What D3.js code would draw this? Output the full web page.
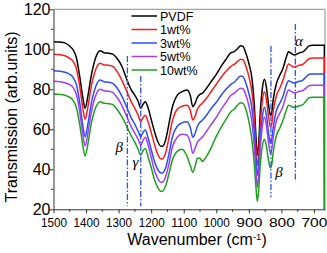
<!DOCTYPE html>
<html><head><meta charset="utf-8">
<script src="https://cdn.jsdelivr.net/npm/d3@7/dist/d3.min.js"></script>
<style>body{margin:0;background:#fff}svg{display:block}text{font-family:Arial,"Liberation Sans",sans-serif}</style>
</head><body>
<svg id="c" width="327" height="253"></svg>
<script>
const wavenumbers = [1500,1480,1465,1450,1440,1430,1420,1410,1403,1395,1385,1370,1357,1345,1330,1318,1305,1290,1275,1262,1250,1240,1232,1225,1218,1210,1200,1190,1180,1170,1165,1155,1145,1135,1120,1105,1090,1080,1072,1065,1058,1050,1043,1030,1015,1000,985,970,955,945,935,925,918,910,900,890,883,878,874,870,865,858,852,846,840,834,830,825,815,805,795,785,778,770,762,755,745,735,725,715,705,690,680,668,667];
const pvdf  = [103.8,103.6,103.2,101.5,99.8,96,87,76,70.5,76,86,96,99.3,98.3,98,97.6,95.5,91.5,85,80,77,74,70.5,72.5,73.8,71,65,59,54,51.5,51.5,55,63,71,77,78.8,79.6,77,71.3,73,76,77.5,78,80.5,84,87.5,91.5,95,98.3,98.8,100.3,101.8,101.5,98.5,93,85,72,56,47,52,68,81,85,81,73,67,68,75,83,87,90.5,96,98.8,98,97.2,97.4,98.2,98.6,100,101.7,102,102,102,102,0];
const wt1   = [97.5,97.3,96.8,95.5,94,90.5,82,70.5,65,70.5,80.5,90,93,92.2,92,91.5,89,84.6,79,74,70.5,67,63.8,65.8,67,64,58.5,52.5,47.5,45.2,45.2,48.5,56,64,70,71.5,72,69.5,64.7,66.5,70,72,73,75.5,79,82.5,86,89,91.5,92.5,93.8,95,94.8,92,86.5,78,66,50,42,46,62,75,78.8,75,67,61.3,62.5,69,77,80.5,84.5,90,92.6,91.8,91.2,91.4,92,92.4,93.8,95.3,95.6,95.6,95.6,95.6,0];
const wt3   = [89.3,89,88.5,87.5,86,82.5,74,62,56.3,62,72,81.5,84.6,83.8,83.5,83,80.8,76.6,71,66,62.5,59,56.3,58.5,59.6,56,50,44,40,38.2,38.2,41,48,56,61.5,63.2,63.8,61,56,58,61.5,63.5,64.5,67,70.5,73.5,77,80,82.5,83.5,85.3,86.6,86.3,83.5,78,70,58,45,37,41,55,67,71,67,59,53,54.5,61,69.5,73,76.5,82,84.3,83.7,83.2,83.4,84,84.5,86,87.5,87.7,87.7,87.7,87.7,0];
const wt5   = [84,83.8,83.3,82.3,81,77.5,69.5,57.5,51.7,57.5,67.5,77,80,79.3,79,78.5,76,72,66.5,61.5,58,55,52,54.5,56,52.5,46,39.5,35.5,33.5,33.5,36.5,43,51,56,57.5,57.2,53.5,48,50.5,53.5,55,56,59,62.5,66,70,73.5,77,78,79.5,80.5,80.3,77.5,72,63,51,39,31,36,50,62,66,62,54,48,49.5,56,64.5,68,71.5,77,79.6,79,78.3,78.4,79,79.3,80.5,81.8,82,82,82,82,0];
const wt10  = [77.6,77.4,77,76,74.5,71,63,52,46.6,52,62,71,73.8,73,72.8,72.3,70,66.3,61.5,57,53.5,50,47.1,49.3,50.4,46.5,41,35,31,29,29,32,38,44.5,49,50,46.5,42,38.5,41.5,45.5,45.5,44,46.5,51,56.5,61,65,68.8,70,72,73.3,73,70.5,64,54,42,31,24,29,42,52,55,51.5,45,40.6,42,48.5,57,60.5,64.5,69.5,72,71.5,71,71.2,71.8,72.2,74,75.8,76,76,76,76,0];
const seriesNames = ["PVDF","1wt%","3wt%","5wt%","10wt%"];
const seriesColors = ["#000000","#ff1a1a","#2a4bff","#a23cf5","#1ea01e"];
const xTicks = [1500,1400,1300,1200,1100,1000,900,800,700];
const yTicks = [20,40,60,80,100,120];
const markerLines = [{w:1273,from:96.6,to:21.5},{w:1232,from:86.6,to:21.5},{w:832,from:101.7,to:26},{w:757,from:112.7,to:33.8}];
const markerLabels = [{t:"β",w:1298,v:48.5},{t:"γ",w:1248,v:41},{t:"β",w:807,v:36},{t:"α",w:746,v:101.5}];

const allSeries = [pvdf,wt1,wt3,wt5,wt10];
const svg = d3.select("#c");
const L=53.5,R=325,T=9.3,B=209.3;
const x = d3.scaleLinear().domain([1500,666]).range([L,R]);
const y = d3.scaleLinear().domain([20,120]).range([B,T]);

svg.append("defs").append("clipPath").attr("id","clip").append("rect").attr("x",L).attr("y",T).attr("width",R-L).attr("height",B-T);

svg.append("line").attr("x1",L).attr("x2",R).attr("y1",T).attr("y2",T).attr("stroke","#8a8a8a").attr("stroke-width",1);
svg.append("line").attr("x1",R).attr("x2",R).attr("y1",T).attr("y2",B).attr("stroke","#8a8a8a").attr("stroke-width",1);

const g = svg.append("g").attr("clip-path","url(#clip)");
const line = d3.line().x((d,i)=>x(wavenumbers[i])).y(d=>y(d)).curve(d3.curveMonotoneX);
allSeries.forEach((s,k)=>{
  g.append("path").datum(s).attr("d",line).attr("fill","none").attr("stroke",seriesColors[k]).attr("stroke-width",1.5);
});

markerLines.forEach(m=>{
  svg.append("line").attr("x1",x(m.w)).attr("x2",x(m.w)).attr("y1",y(m.from)).attr("y2",y(m.to))
    .attr("stroke","#2f52e8").attr("stroke-width",1.3).attr("stroke-dasharray","6,2,1.5,2");
});
markerLabels.forEach(m=>{
  svg.append("text").attr("x",x(m.w)).attr("y",y(m.v)).attr("text-anchor","middle")
    .style("font-family","'Liberation Serif','DejaVu Serif',serif").style("font-style","italic").style("font-size","15px").text(m.t);
});

const xAxis = d3.axisBottom(x).tickValues(xTicks).tickSize(4).tickSizeOuter(0).tickFormat(d3.format("d"));
const gx = svg.append("g").attr("transform",`translate(0,${B})`).call(xAxis);
gx.selectAll("text").style("font-size","13px").attr("dy","0.8em").attr("y",7.5)
  .attr("textLength",26).attr("lengthAdjust","spacingAndGlyphs");
const xMinor = d3.range(1450,666,-100);
gx.selectAll(".minor").data(xMinor).enter().append("line").attr("x1",d=>x(d)).attr("x2",d=>x(d)).attr("y1",0).attr("y2",2.5).attr("stroke","#333");
const yAxis = d3.axisLeft(y).tickValues(yTicks).tickSize(4).tickSizeOuter(0);
const gy = svg.append("g").attr("transform",`translate(${L},0)`).call(yAxis);
gy.selectAll("text").style("font-size","16px").attr("x",-3);
gy.selectAll(".minor").data(d3.range(30,120,20)).enter().append("line").attr("y1",d=>y(d)).attr("y2",d=>y(d)).attr("x1",0).attr("x2",-2.5).attr("stroke","#333");
[gx,gy].forEach(a=>{a.selectAll("path,line").attr("stroke","#333");});

svg.append("text").attr("transform","translate(17,117) rotate(-90)").attr("text-anchor","middle").style("font-size","16px").text("Transmission (arb.units)");
const xt = svg.append("text").attr("x",197).attr("y",244.5).attr("text-anchor","middle").style("font-size","16px");
xt.append("tspan").text("Wavenumber (cm");
xt.append("tspan").attr("dy",-5).style("font-size","9.5px").text("-1");
xt.append("tspan").attr("dy",5).text(")");

const lg = svg.append("g");
seriesNames.forEach((n,k)=>{
  const yy = 16 + k*13.5;
  lg.append("line").attr("x1",131.5).attr("x2",157).attr("y1",yy).attr("y2",yy).attr("stroke",seriesColors[k]).attr("stroke-width",1.5);
  lg.append("text").attr("x",160).attr("y",yy+4.5).style("font-size","12.5px").text(n);
});
</script>
</body></html>
